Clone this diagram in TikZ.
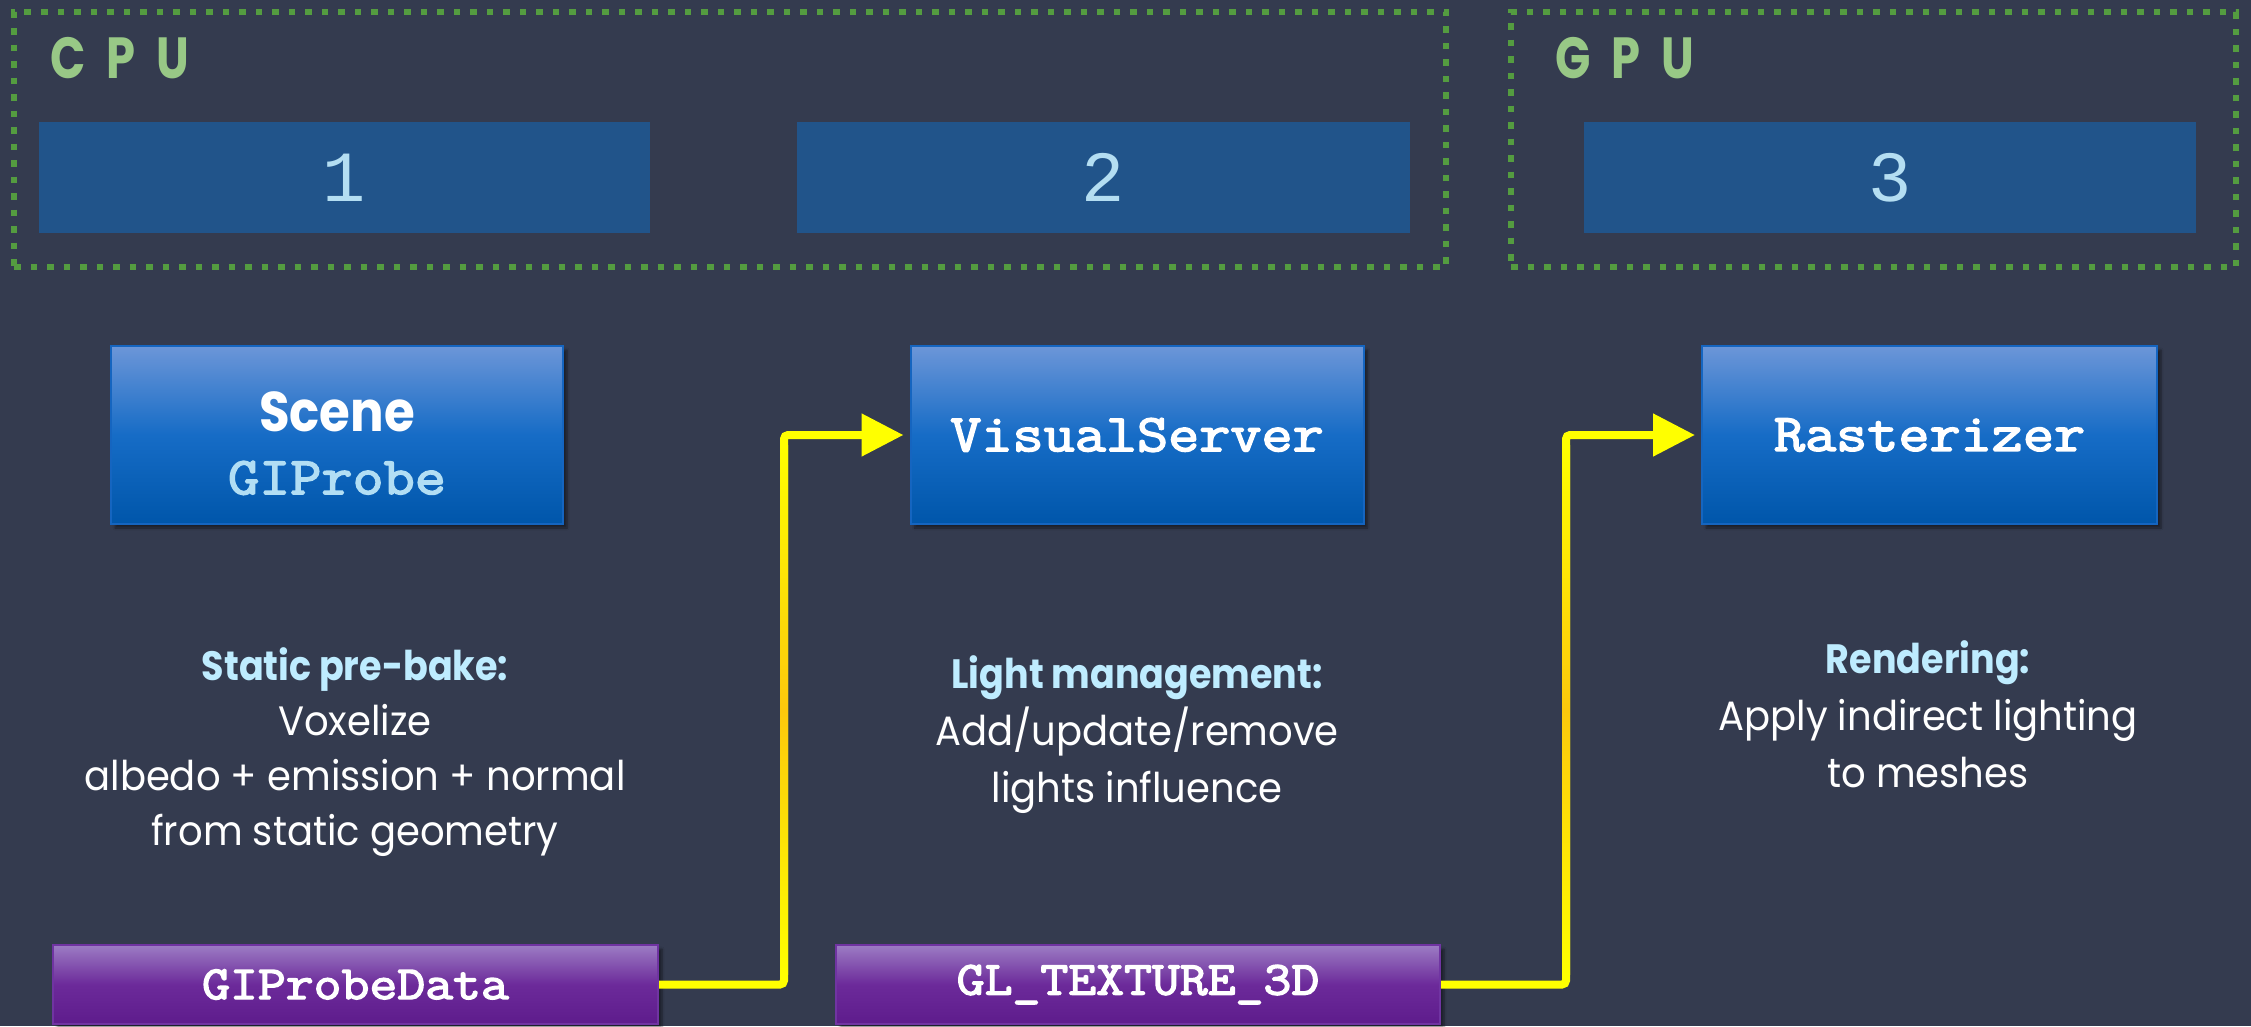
\documentclass[tikz,border=0pt]{standalone}
\usepackage{fontspec}
\setmainfont{Poppins}[FakeStretch=0.94]
\newfontfamily\headfont{Poppins}[FakeStretch=0.89]
\newfontfamily\monofont{Latin Modern Mono}[FakeStretch=1.14, FakeBold=3]
\newfontfamily\digitfont{Liberation Mono}
\newfontfamily\tagfont{Poppins}[FakeStretch=0.8]
\usetikzlibrary{arrows.meta,shadows.blur}

\definecolor{bg}{RGB}{52,59,79}
\definecolor{dotgreen}{RGB}{84,156,64}
\definecolor{taggreen}{RGB}{152,200,134}
\definecolor{stagefill}{RGB}{33,84,138}
\definecolor{digitblue}{RGB}{180,222,242}
\definecolor{modtop}{RGB}{108,150,216}
\definecolor{modmid}{RGB}{22,108,198}
\definecolor{modbot}{RGB}{0,86,170}
\definecolor{modborder}{RGB}{21,101,192}
\definecolor{datatop}{RGB}{156,124,196}
\definecolor{datamid}{RGB}{108,42,154}
\definecolor{databot}{RGB}{94,28,140}
\definecolor{databorder}{RGB}{112,52,162}
\definecolor{probeblue}{RGB}{178,222,244}
\definecolor{headcyan}{RGB}{190,236,255}
\definecolor{wireyellow}{RGB}{255,255,0}
\definecolor{wireamber}{RGB}{252,200,12}

\tikzset{
  group/.style={draw=dotgreen, line width=6.5pt, dash pattern=on 6.5pt off 10pt,
    inner sep=0pt, minimum height=255pt},
  grouptag/.style={anchor=base west, inner sep=0pt, text=taggreen,
    font=\tagfont\bfseries\fontsize{58}{58}\selectfont},
  stagebox/.style={fill=stagefill, inner sep=0pt, minimum height=111pt,
    text=digitblue, font=\digitfont\fontsize{72}{72}\selectfont},
  modbox/.style={draw=modborder, line width=2pt, top color=modtop,
    bottom color=modbot, middle color=modmid, inner sep=0pt,
    minimum width=453pt, minimum height=178pt, text=white,
    font=\monofont\fontsize{53}{53}\selectfont,
    blur shadow={shadow xshift=4pt, shadow yshift=-4pt, shadow blur steps=6,
      shadow opacity=45}},
  databox/.style={draw=databorder, line width=2pt, top color=datatop,
    bottom color=databot, middle color=datamid, inner sep=0pt,
    minimum width=604pt, minimum height=79pt, text=white,
    font=\monofont\fontsize{47.5}{47.5}\selectfont,
    blur shadow={shadow xshift=4pt, shadow yshift=-4pt, shadow blur steps=6,
      shadow opacity=45}},
  notes/.style={align=center, inner sep=0pt, text=white,
    font=\fontsize{41}{57}\selectfont},
  wire/.style={draw=wireyellow, line width=8pt, rounded corners=4pt,
    -{Triangle[length=42pt,width=41pt]}, shorten >=6pt},
  wireglow/.style={top color=wireyellow, bottom color=wireyellow,
    middle color=wireamber},
}

\newcommand{\notehead}[1]{{\headfont\bfseries\color{headcyan}#1}}

\begin{document}
\begin{tikzpicture}[x=1pt,y=-1pt]
  \useasboundingbox (0,0) rectangle (2251,1026);
  \fill[bg] (0,0) rectangle (2251,1026);

  % processor groups
  \node[group, minimum width=1432pt] (cpu) at (730,139.5) {};
  \node[group, minimum width=725pt] (gpu) at (1873.5,139.5) {};
  \node[grouptag] (cputag) at (50,78) {C\hspace{21pt}P\hspace{21pt}U};
  \node[grouptag] (gputag) at (1555,78) {G\hspace{21pt}P\hspace{21pt}U};

  % stage numbers
  \node[stagebox, minimum width=611pt] (s1) at (344.5,177.5) {1};
  \node[stagebox, minimum width=613pt] (s2) at (1103.5,177.5) {2};
  \node[stagebox, minimum width=612pt] (s3) at (1890,177.5) {3};

  % modules
  \node[modbox, minimum width=452pt] (scene) at (337,435) {};
  \node[align=center, inner sep=0pt, text=white, font=\fontsize{53}{63}\selectfont]
    (scenelbl) at ([yshift=-8pt]scene.center)
    {{\headfont\bfseries\fontsize{56}{63}\selectfont Scene}\\{\monofont\color{probeblue}GIProbe}};
  \node[modbox] (vs) at (1137,435) {VisualServer};
  \node[modbox, minimum width=455pt] (rast) at (1929.5,435) {Rasterizer};

  % descriptions
  \node[notes, font=\fontsize{41}{55}\selectfont] (note1) at (355,752)
    {\notehead{Static pre-bake:}\\Voxelize\\albedo + emission + normal\\from static geometry};
  \node[notes] (note2) at (1137,735)
    {\notehead{Light management:}\\Add/update/remove\\lights influence};
  \node[notes] (note3) at (1928,714)
    {\notehead{Rendering:}\\Apply indirect lighting\\to meshes};

  % data resources
  \node[databox, minimum width=605pt] (gpd) at (355.5,984.5) {GIProbeData};
  \node[databox] (glt) at (1138,984.5) {GL\_TEXTURE\_3D};

  % data flow: bends of the two elbow connectors
  \coordinate (k1) at ([xshift=-125.5pt]vs.west);
  \coordinate (k2) at (k1 |- gpd.east);
  \coordinate (k3) at ([xshift=-135pt]rast.west);
  \coordinate (k4) at (k3 |- glt.east);

  \draw[wire] (gpd.east) -- (k2) -- (k1) -- (vs.west);
  \draw[wire] (glt.east) -- (k4) -- (k3) -- (rast.west);

  % warmer tint along the rising legs
  \shade[wireglow] ([xshift=-4pt,yshift=-10pt]k1) rectangle ([xshift=4pt,yshift=10pt]k2);
  \shade[wireglow] ([xshift=-4pt,yshift=-10pt]k3) rectangle ([xshift=4pt,yshift=10pt]k4);
\end{tikzpicture}
\end{document}
